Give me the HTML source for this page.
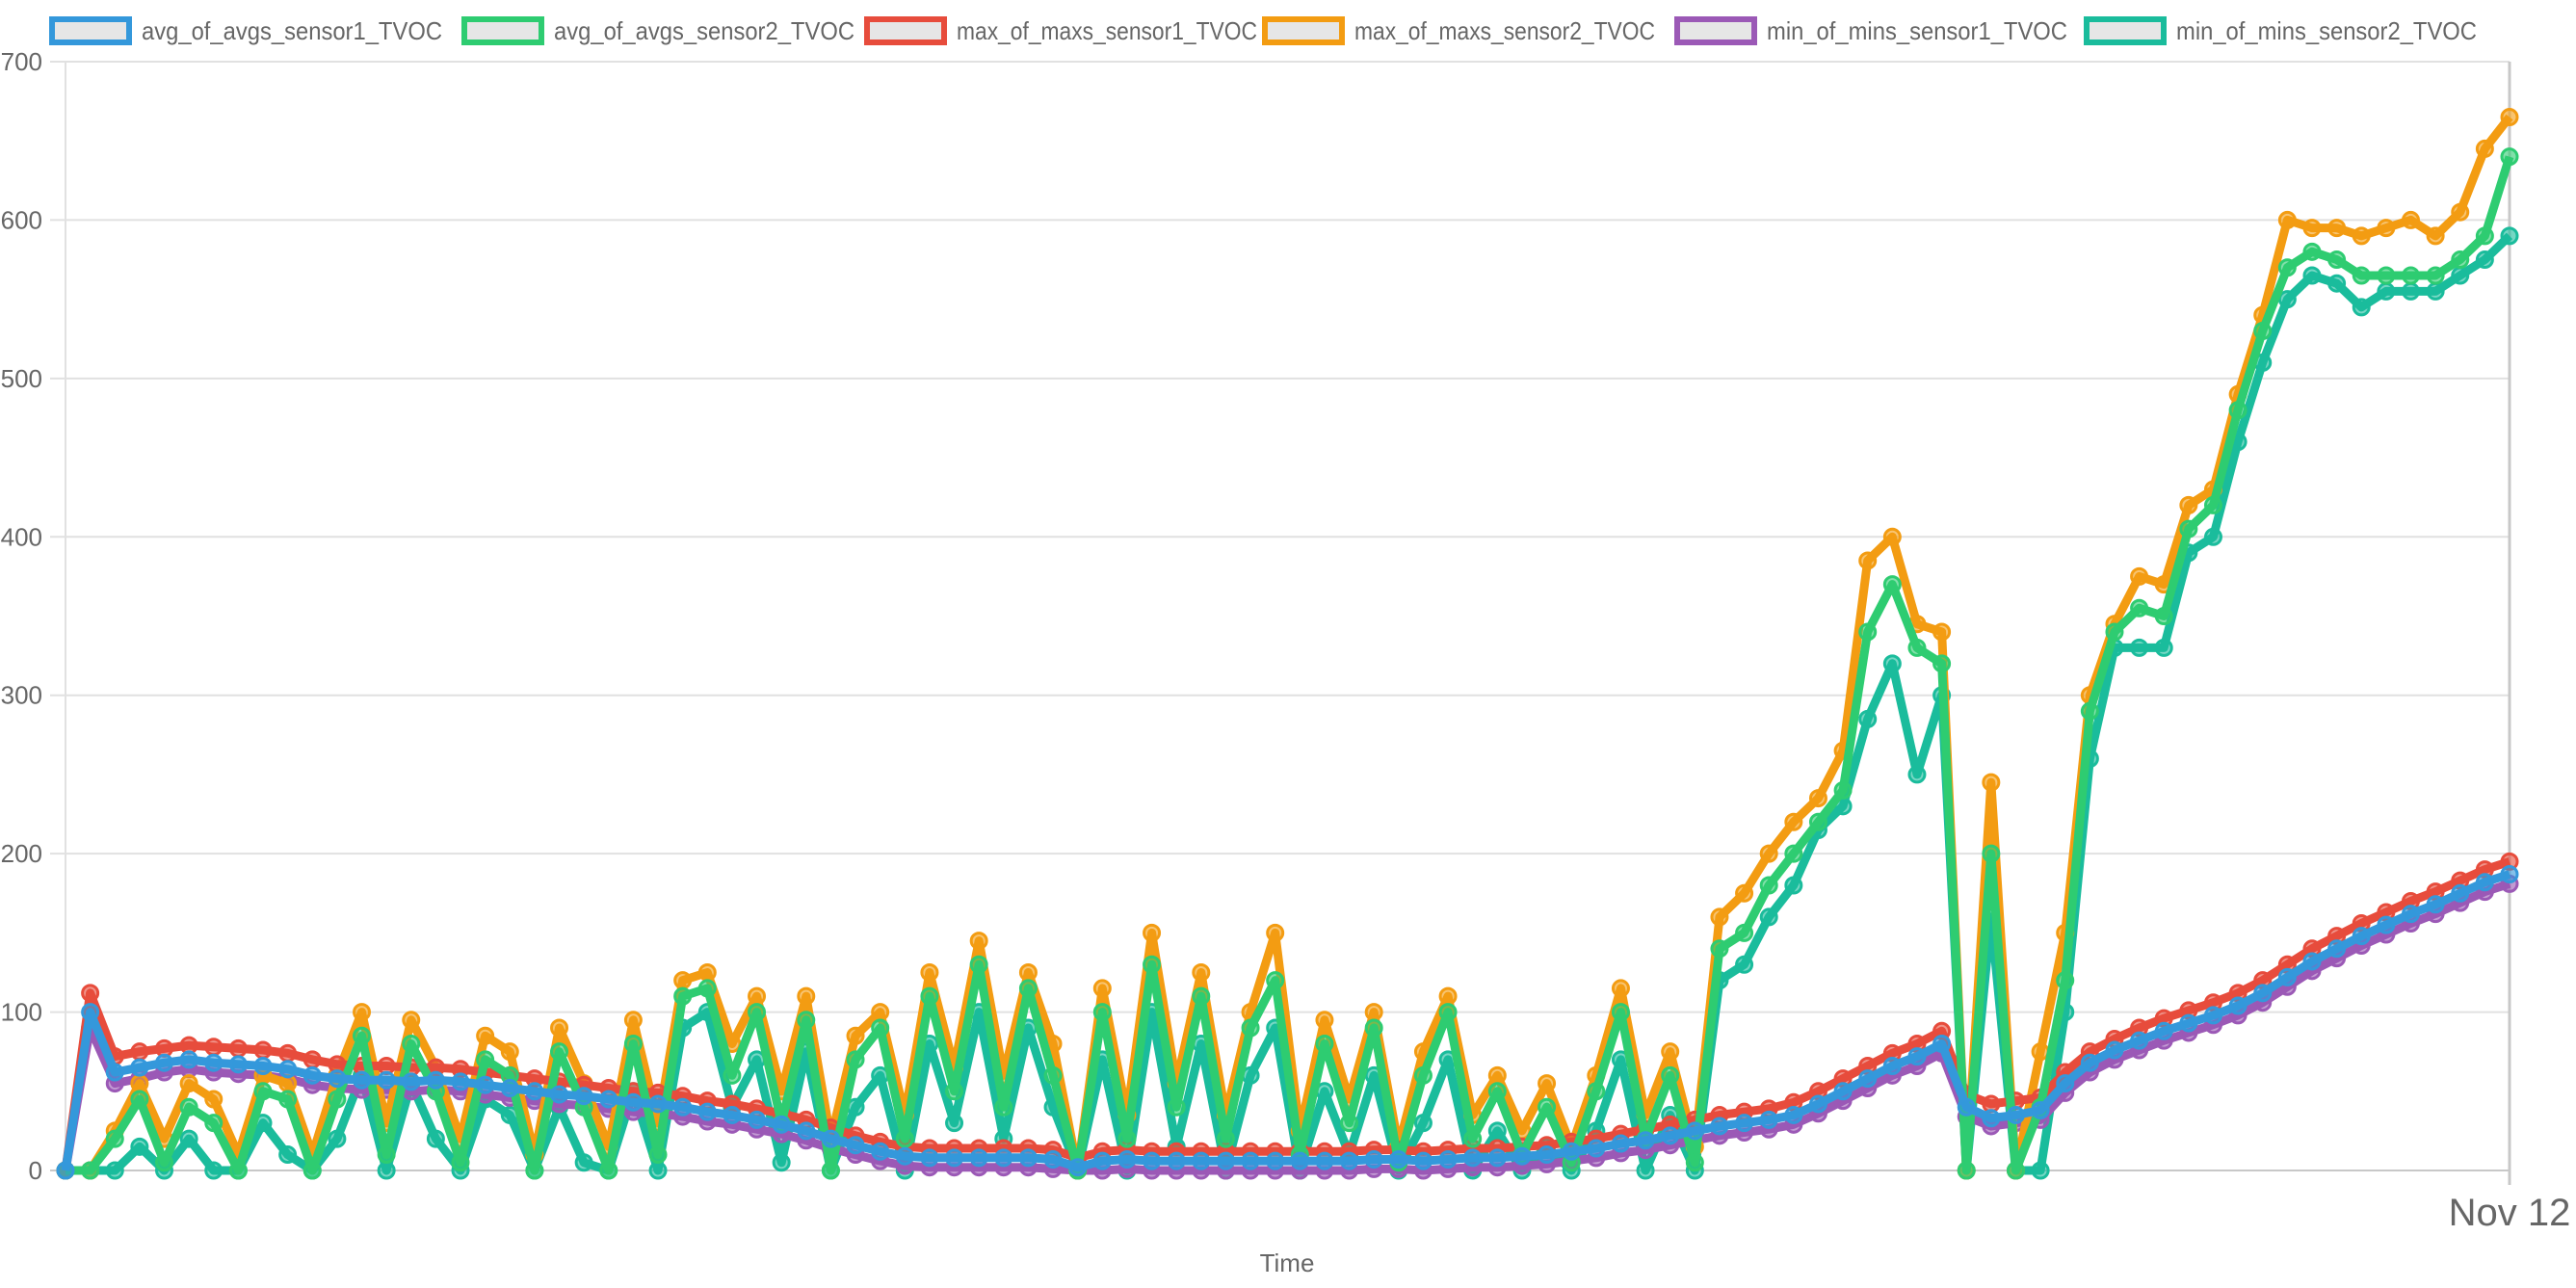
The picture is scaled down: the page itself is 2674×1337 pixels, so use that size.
<!DOCTYPE html>
<html><head><meta charset="utf-8"><style>
html,body{margin:0;padding:0;background:#fff;}
svg{display:block;font-family:"Liberation Sans",Arial,sans-serif;}
</style></head><body>
<svg id="chart" width="2674" height="1337" viewBox="0 0 2674 1337">
<g id="grid"></g>
<g id="series"></g>
<g id="legend"></g>
<text x="1336" y="1320" text-anchor="middle" font-size="26" fill="#666">Time</text>
<text x="2605" y="1272" text-anchor="middle" font-size="40" fill="#666">Nov 12</text>
</svg>
<script>
const yTicks = [0,100,200,300,400,500,600,700];
const seriesNames = ["avg_of_avgs_sensor1_TVOC","avg_of_avgs_sensor2_TVOC","max_of_maxs_sensor1_TVOC","max_of_maxs_sensor2_TVOC","min_of_mins_sensor1_TVOC","min_of_mins_sensor2_TVOC"];
const seriesColors = ["#3498db","#2ecc71","#e74c3c","#f39c12","#9b59b6","#1abc9c"];
const avgSensor1 = [0,100,62,65,68,70,68,67,66,64,60,58,57,57,56,57,56,54,52,50,48,47,45,43,42,40,37,35,32,29,25,20,16,12,9,8,8,8,8,8,7,2,6,7,6,6,6,6,6,6,6,6,6,7,7,6,7,8,8,9,10,12,14,17,19,22,25,28,30,32,35,42,50,58,66,72,80,40,33,35,38,55,68,76,82,88,93,98,104,112,122,132,140,148,155,162,168,175,182,187];
const maxSensor1 = [0,112,72,75,77,79,78,77,76,74,70,67,66,66,65,65,64,62,60,58,56,54,52,50,49,47,44,42,39,36,32,27,22,18,15,14,14,14,14,14,13,8,12,13,12,12,12,12,12,12,12,12,12,13,13,12,13,14,14,15,16,18,20,23,26,29,32,35,37,39,43,50,58,66,74,80,88,48,42,44,46,62,75,83,90,96,101,106,112,120,130,140,148,156,163,170,176,183,190,195];
const minSensor1 = [0,90,55,58,62,64,62,61,60,58,54,52,51,51,50,51,50,48,46,44,42,41,39,37,36,34,31,29,26,23,19,14,10,6,3,2,2,2,2,2,1,0,0,1,0,0,0,0,0,0,0,0,0,1,1,0,1,2,2,3,4,6,8,11,13,16,19,22,24,26,29,36,44,52,60,66,74,34,28,30,32,49,62,70,76,82,87,92,98,106,116,126,134,142,149,156,162,169,176,181];
const avgSensor2 = [0,0,20,45,5,40,30,0,50,45,0,45,85,10,80,50,5,70,60,0,75,40,0,80,10,110,115,60,100,30,95,0,70,90,20,110,50,130,40,115,60,0,100,20,130,40,110,20,90,120,10,80,30,90,5,60,100,20,50,10,40,5,50,100,20,60,5,140,150,180,200,220,240,340,370,330,320,0,200,0,40,120,290,340,355,350,405,420,480,530,570,580,575,565,565,565,565,575,590,640];
const maxSensor2 = [0,0,25,55,20,55,45,10,60,55,10,60,100,30,95,65,20,85,75,10,90,55,15,95,30,120,125,80,110,50,110,20,85,100,35,125,65,145,60,125,80,0,115,35,150,55,125,35,100,150,25,95,45,100,15,75,110,35,60,25,55,15,60,115,35,75,15,160,175,200,220,235,265,385,400,345,340,0,245,0,75,150,300,345,375,370,420,430,490,540,600,595,595,590,595,600,590,605,645,665];
const minSensor2 = [0,0,0,15,0,20,0,0,30,10,0,20,60,0,55,20,0,45,35,0,40,5,0,50,0,90,100,40,70,5,75,0,40,60,0,80,30,100,20,90,40,0,70,0,100,15,80,0,60,90,0,50,10,60,0,30,70,0,25,0,15,0,25,70,0,35,0,120,130,160,180,215,230,285,320,250,300,0,160,0,0,100,260,330,330,330,390,400,460,510,550,565,560,545,555,555,555,565,575,590];

const NS="http://www.w3.org/2000/svg";
const X0=68, X1=2605, Y0=1215, Y700=64;
function xScale(i,n){return X0+(X1-X0)*i/(n-1);}
function yScale(v){return Y0-(Y0-Y700)*v/700;}
function mk(tag,attrs,parent){const e=document.createElementNS(NS,tag);for(const k in attrs)e.setAttribute(k,attrs[k]);parent.appendChild(e);return e;}

const grid=document.getElementById('grid');
yTicks.forEach(t=>{
  const y=yScale(t);
  const ln=mk('line',{x1:52,x2:X1,y1:y,y2:y,stroke:t===0?'#c8c8c8':'#e1e1e1','stroke-width':2},grid);
  
  
  const tx=mk('text',{x:44,y:y+9,'text-anchor':'end','font-size':26,fill:'#666'},grid);
  tx.textContent=String(t);
  
  
});
const ya=mk('line',{x1:X0,x2:X0,y1:Y700,y2:Y0,stroke:'#e1e1e1','stroke-width':2},grid);


const ra=mk('line',{x1:X1,x2:X1,y1:Y700,y2:1230,stroke:'#c8c8c8','stroke-width':3},grid);



const allData=[avgSensor1,avgSensor2,maxSensor1,maxSensor2,minSensor1,minSensor2];
const sg=document.getElementById('series');
[5,4,3,2,1,0].forEach(s=>{
  const d=allData[s], c=seriesColors[s], n=d.length;
  const g=mk('g',{},sg);
  
  
  const pts=d.map((v,i)=>xScale(i,n).toFixed(1)+','+yScale(v).toFixed(1)).join(' ');
  const pl=mk('polyline',{points:pts,fill:'none',stroke:c,'stroke-width':9,'stroke-linejoin':'round'},g);
  
  
  d.forEach((v,i)=>{
    const p=mk('circle',{cx:xScale(i,n),cy:yScale(v),r:8,fill:c,'fill-opacity':0.6,stroke:c,'stroke-width':3},g);
    
    
  });
});

const lg=document.getElementById('legend');
const legendX=[51,479,897,1310,1738,2163];
seriesNames.forEach((nm,i)=>{
  const g=mk('g',{},lg);
  
  
  mk('rect',{x:legendX[i]+3,y:20,width:80,height:24,fill:'#e6e6e6',stroke:seriesColors[i],'stroke-width':6},g);
  const t=mk('text',{x:legendX[i]+96,y:41,'font-size':26,fill:'#666',textLength:312,lengthAdjust:'spacingAndGlyphs'},g);
  t.textContent=nm;
});
</script>
</body></html>
